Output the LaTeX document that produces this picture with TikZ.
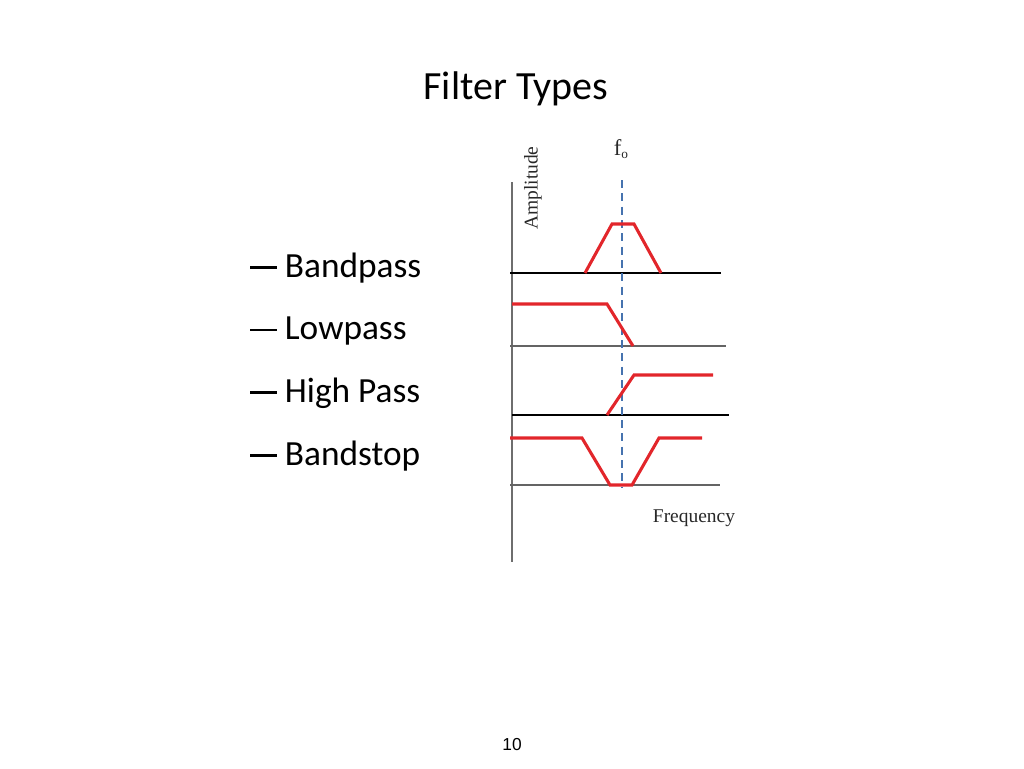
\documentclass[tikz,border=0pt]{standalone}
\usepackage{fontspec}
\setmainfont{Carlito}
\newfontfamily\serifx{Liberation Serif}
\newfontfamily\arialx{Liberation Sans}
\newcommand{\bdash}{\rule[0.23em]{0.76em}{0.08em}\hspace{0.22em}}
\begin{document}
\begin{tikzpicture}[x=0.75pt,y=-0.75pt,
  redline/.style={draw={rgb,255:red,226;green,38;blue,43},line width=2.3pt,line join=miter},
  base/.style={draw=black,line width=1.5pt},
  grayb/.style={draw={rgb,255:red,100;green,100;blue,100},line width=1.5pt},
  axisl/.style={draw={rgb,255:red,110;green,110;blue,110},line width=1.5pt},
  dashl/.style={draw={rgb,255:red,70;green,115;blue,175},line width=1.5pt,dash pattern=on 6pt off 4pt},
  bul/.style={anchor=west,inner sep=0pt,font=\fontsize{26.5}{30}\selectfont},
  lab/.style={inner sep=0pt,font=\serifx\fontsize{14.6}{17}\selectfont,text={rgb,255:red,40;green,40;blue,40}}]
\useasboundingbox (0,0) rectangle (1024,768);
% title
\node[inner sep=0pt,font=\fontsize{30}{35}\selectfont] (title) at (516,89) {Filter Types};
% bullets
\node[bul] (b1) at (250,268) {\bdash Bandpass};
\node[bul] (b2) at (250,331) {\bdash Lowpass};
\node[bul] (b3) at (250,393) {\bdash High Pass};
\node[bul] (b4) at (250,456) {\bdash Bandstop};
% axis
\draw[axisl] (512,182) -- (512,562);
% baselines
\draw[base] (510,273) -- (721,273);
\draw[grayb] (510,346) -- (726,346);
\draw[base] (512,415) -- (729,415);
\draw[grayb] (510,485) -- (720,485);
% dashed center
\draw[dashl] (622,180) -- (622,487);
% curves
\draw[redline] (585,273) -- (612,224) -- (634,224) -- (661,273);
\draw[redline] (512,304) -- (607,304) -- (633,346);
\draw[redline] (607,415) -- (634,375) -- (713,375);
\draw[redline] (510,438) -- (582,438) -- (610,485) -- (632,485) -- (659,438) -- (702,438);
% labels
\node[lab,rotate=90] (amp) at (533,188) {Amplitude};
\node[lab,font=\serifx\fontsize{17}{20}\selectfont] (fo) at (621,149) {f\raisebox{-0.35ex}{\fontsize{10}{12}\selectfont o}};
\node[lab] (freq) at (694,518) {Frequency};
\node[inner sep=0pt,font=\arialx\fontsize{13}{15}\selectfont] (pg) at (512,745) {10};
\end{tikzpicture}
\end{document}
